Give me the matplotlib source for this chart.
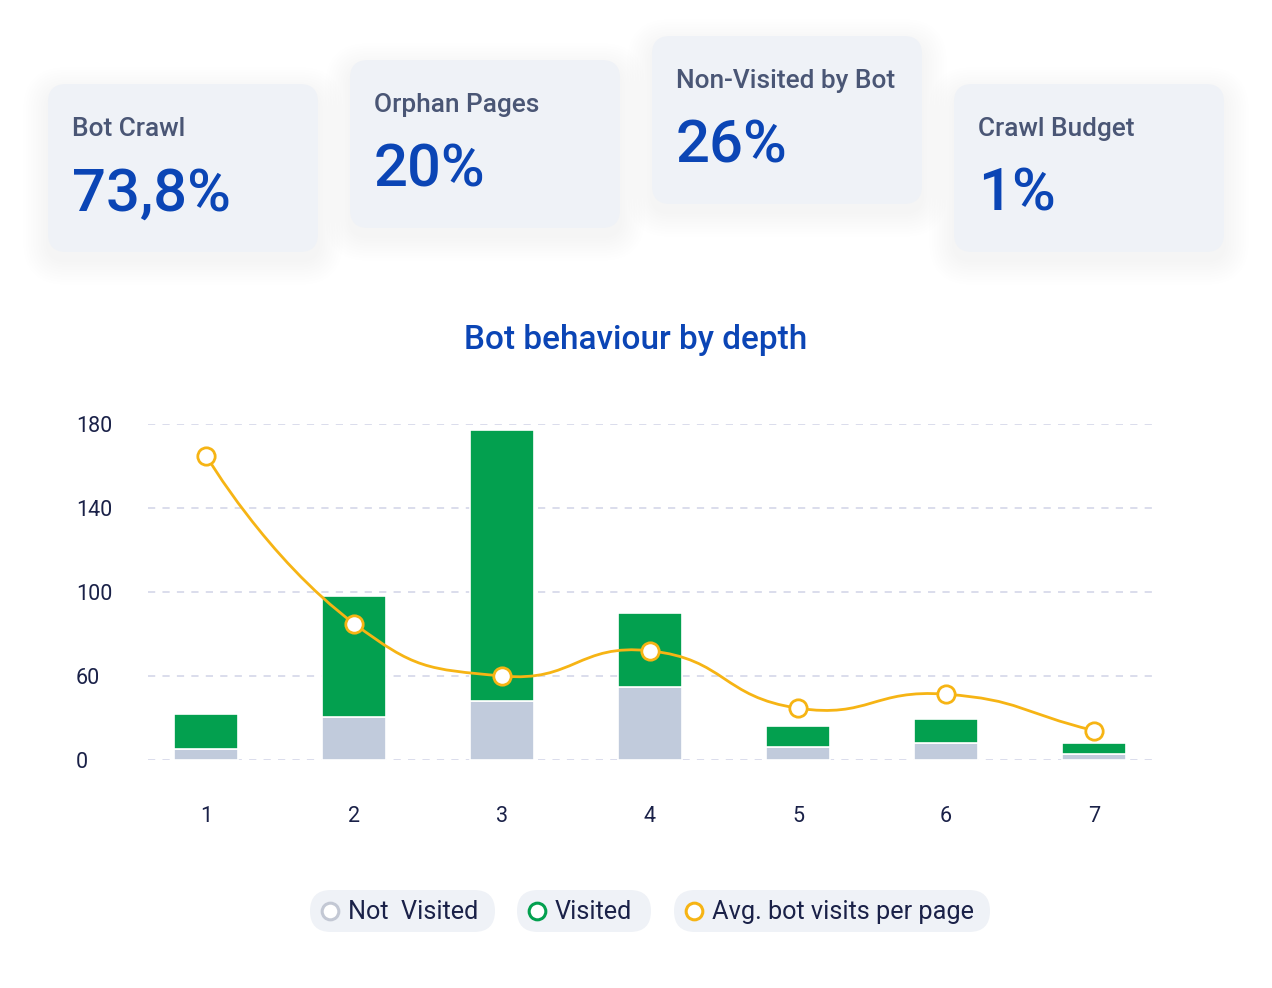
import numpy as np
import matplotlib
matplotlib.use("Agg")
import matplotlib.pyplot as plt
from matplotlib.patches import FancyBboxPatch
from matplotlib.path import Path
from matplotlib.patches import PathPatch

plt.rcParams['font.family'] = ['Roboto', 'DejaVu Sans']

# datos
card_labels = ["Bot Crawl", "Orphan Pages", "Non-Visited by Bot", "Crawl Budget"]
card_values = ["73,8%", "20%", "26%", "1%"]

depth = [1, 2, 3, 4, 5, 6, 7]
not_visited = [8, 31, 42, 52, 9, 12, 4]
visited = [25, 67, 135, 38, 15, 17, 8]
avg_visits = [165, 85, 60, 72, 37, 47, 21]

y_ticks = [0, 60, 100, 140, 180]
legend_labels = ["Not  Visited", "Visited", "Avg. bot visits per page"]

# colores
c_green = "#03A04F"
c_gray = "#C1CBDC"
c_orange = "#F6B414"
c_blue = "#0B45B5"
c_label = "#4A5675"
c_navy = "#1A2148"
c_card = "#EFF2F7"

W, H = 1272, 988
fig = plt.figure(figsize=(W / 100, H / 100), dpi=100)
fig.patch.set_facecolor("white")

# capa de fondo en pixeles
bg = fig.add_axes([0, 0, 1, 1], zorder=0)
bg.set_xlim(0, W)
bg.set_ylim(H, 0)
bg.axis("off")


def caja(x0, y0, w, h, r, color, shadow=True):
    if shadow:
        for i in range(10):
            p = 2 + i * 2.5
            bg.add_patch(FancyBboxPatch((x0 - p, y0 - p + 8), w + 2 * p, h + 2 * p,
                                        boxstyle="round,pad=0,rounding_size=%f" % (r + p),
                                        fc="#98A2B6", ec="none", alpha=0.006))
    bg.add_patch(FancyBboxPatch((x0, y0), w, h, boxstyle="round,pad=0,rounding_size=%f" % r,
                                fc=color, ec="none"))


card_pos = [(48, 84), (350, 60), (652, 36), (954, 84)]
for (cx, cy), lab, val in zip(card_pos, card_labels, card_values):
    caja(cx, cy, 270, 168, 18, c_card)
    bg.text(cx + 24, cy + 45, lab, fontsize=18.9, color=c_label, va="center", ha="left",
            fontweight="medium")
    bg.text(cx + 24, cy + 110, val, fontsize=43, color=c_blue, va="center", ha="left",
            fontweight="medium")

bg.text(636, 340, "Bot behaviour by depth", fontsize=24, color=c_blue, ha="center",
        va="center", fontweight="medium")

# escala del eje y (marcas equiespaciadas)
y_ext = [-60] + y_ticks + [220]
p_ext = list(range(-1, len(y_ticks) + 1))


def fwd(v):
    return np.interp(v, y_ext, p_ext)


def inv(p):
    return np.interp(p, p_ext, y_ext)


ax = fig.add_axes([148 / W, 1 - 760 / H, (1152 - 148) / W, (760 - 424) / H], zorder=2)
ax.set_facecolor("none")
ax.set_yscale("function", functions=(fwd, inv))
ax.set_ylim(0, 180)
ax.set_xlim(0.608, 7.392)

ax.bar(depth, not_visited, width=0.43, color=c_gray, edgecolor="white", linewidth=1.2, zorder=2)
ax.bar(depth, visited, bottom=not_visited, width=0.43, color=c_green, edgecolor="white",
       linewidth=1.2, zorder=2)

# curva suavizada (puntos de control tipo "smooth"), calculada en pixeles
sx, sy, smooth = 148.0, 84.0, 0.5
X = np.array(depth, dtype=float) * sx
Y = fwd(np.array(avg_visits, dtype=float)) * sy
n = len(X)
verts = [(depth[0], avg_visits[0])]
codes = [Path.MOVETO]
cp0 = (X[0], Y[0])
for k in range(1, n):
    px, py = X[k - 1], Y[k - 1]
    x, y = X[k], Y[k]
    nx, ny = (X[k + 1], Y[k + 1]) if k < n - 1 else (x, y)
    vx, vy = nx - px, ny - py
    lp = np.hypot(x - px, y - py)
    ln = np.hypot(x - nx, y - ny)
    r = ln / (ln + lp)
    cp1 = (x - vx * smooth * (1 - r), y - vy * smooth * (1 - r))
    verts += [(cp0[0] / sx, inv(cp0[1] / sy)), (cp1[0] / sx, inv(cp1[1] / sy)),
              (depth[k], avg_visits[k])]
    codes += [Path.CURVE4] * 3
    cp0 = (x + vx * smooth * r, y + vy * smooth * r)
ax.add_patch(PathPatch(Path(verts, codes), fc="none", ec=c_orange, lw=2.0, zorder=3))
ax.plot(depth, avg_visits, ls="none", marker="o", ms=12.5, mfc="white", mec=c_orange,
        mew=2.0, zorder=4, clip_on=False)

ax.set_yticks(y_ticks)
ax.set_yticklabels([str(t) for t in y_ticks])
ax.set_xticks(depth)
ax.grid(axis="y", color="#D8DAEB", ls=(0, (4, 4)), lw=1.3, zorder=0)
ax.tick_params(axis="both", length=0, labelsize=15.5, labelcolor=c_navy)
ax.tick_params(axis="y", pad=52)
ax.tick_params(axis="x", pad=33)
for t in ax.get_yticklabels():
    t.set_horizontalalignment("left")
for s in ax.spines.values():
    s.set_visible(False)

# leyenda en pastillas
pills = [(310, 185), (517, 134), (674, 316)]
mk_colors = [("#FFFFFF", "#C3C8D4"), ("#FFFFFF", c_green), ("#FFFFFF", c_orange)]
for (px, pw), lab, (fc, ec) in zip(pills, legend_labels, mk_colors):
    caja(px, 890, pw, 42, 21, c_card, shadow=False)
    bg.plot(px + 20, 911, marker="o", ms=12, mfc=fc, mec=ec, mew=2.2)
    bg.text(px + 38, 912, lab, fontsize=18.2, color=c_navy, va="center", ha="left")

fig.savefig("out.png", dpi=100)
